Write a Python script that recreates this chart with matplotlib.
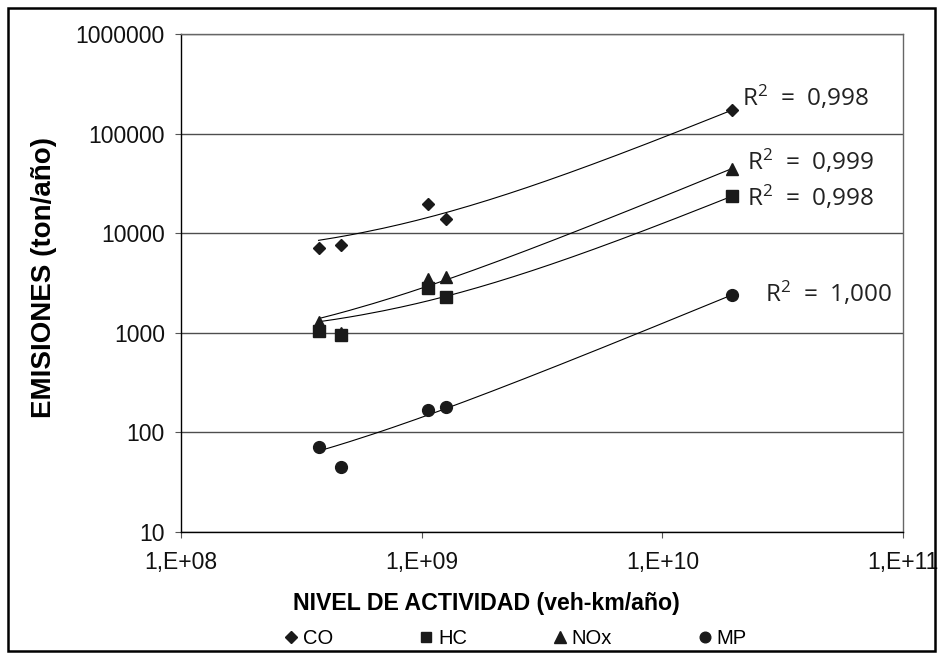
import numpy as np
import matplotlib
matplotlib.use('Agg')
import matplotlib.pyplot as plt
from matplotlib.lines import Line2D
from matplotlib.patches import Rectangle

# values (veh-km/año vs ton/año)
actividad = [3.73e8, 4.61e8, 1.067e9, 1.258e9, 1.945e10]
co = [7100, 7700, 19500, 14000, 172000]
hc = [1050, 960, 2850, 2270, 23500]
nox = [1270, 1000, 3480, 3600, 44500]
mp = [72, 45, 168, 180, 2400]

series_names = ['CO', 'HC', 'NOx', 'MP']
r2_labels = ['0,998', '0,998', '0,999', '1,000']
y_ticks = [10, 100, 1000, 10000, 100000, 1000000]
x_ticks = [1e8, 1e9, 1e10, 1e11]
x_tick_labels = ['1,E+08', '1,E+09', '1,E+10', '1,E+11']

plt.rcParams['font.family'] = ['Liberation Sans', 'DejaVu Sans']

fig = plt.figure(figsize=(9.43, 6.54), dpi=100)
ax = fig.add_axes([0.1919, 0.1865, 0.7657, 0.7615])

markers = ['D', 's', '^', 'o']
msizes = [6.5, 8, 9, 8.5]
# offsets (points) of the R2 labels from the last point
offsets = [(7, 9), (11, -1), (11, 5), (24, 1)]

xs = np.array(actividad)
for name, vals, mk, ms, r2, off in zip(series_names, [co, hc, nox, mp], markers, msizes, r2_labels, offsets):
    ys = np.array(vals, dtype=float)
    # linear trendline, as excel draws it on log axes
    a, b = np.polyfit(xs, ys, 1)
    xl = np.linspace(xs.min(), xs.max(), 300)
    ax.plot(xl, a * xl + b, color='black', lw=0.8, zorder=2)
    ax.plot(xs, ys, linestyle='none', marker=mk, ms=ms, color='#1a1a1a', zorder=3)
    ax.annotate(r'$\mathregular{R^2}$  =  ' + r2, xy=(xs[-1], ys[-1]), xytext=off,
                textcoords='offset points', va='center', ha='left',
                fontsize=17.5, family='Open Sans', color='#222222')

ax.set_xscale('log')
ax.set_yscale('log')
ax.set_xlim(1e8, 1e11)
ax.set_ylim(10, 1e6)
ax.set_xticks(x_ticks)
ax.set_xticklabels(x_tick_labels)
ax.set_yticks(y_ticks)
ax.set_yticklabels([str(v) for v in y_ticks])
ax.minorticks_off()
ax.tick_params(labelsize=16.5, length=4.5, width=0.8, colors='#555555', labelcolor='#111111')
ax.tick_params(axis='x', pad=9)
ax.tick_params(axis='y', pad=7)

ax.grid(axis='y', color='#4d4d4d', lw=1)
for s in ['top', 'right']:
    ax.spines[s].set_color('#666666')
    ax.spines[s].set_linewidth(1)
ax.spines['left'].set_linewidth(1)
ax.spines['bottom'].set_linewidth(1)

ax.set_xlabel('NIVEL DE ACTIVIDAD (veh-km/año)', fontsize=16.7, fontweight='bold', va='center')
ax.xaxis.set_label_coords(0.4224, -0.1426)
ax.set_ylabel('EMISIONES (ton/año)', fontsize=20, fontweight='bold', va='center')
ax.yaxis.set_label_coords(-0.19, 0.512)

handles = [Line2D([], [], linestyle='none', marker=m, ms=s * 0.9, color='#1a1a1a')
           for m, s in zip(markers, msizes)]
fig.legend(handles, series_names, loc='center', bbox_to_anchor=(0.546, 0.024), ncol=4,
           frameon=False, fontsize=14.5, handlelength=0.8, handletextpad=0.2,
           columnspacing=4.2)

fig.add_artist(Rectangle((0.0085, 0.005), 0.983, 0.983, transform=fig.transFigure,
                         fill=False, lw=1.8, color='black'))

fig.savefig('out.png', dpi=100)
